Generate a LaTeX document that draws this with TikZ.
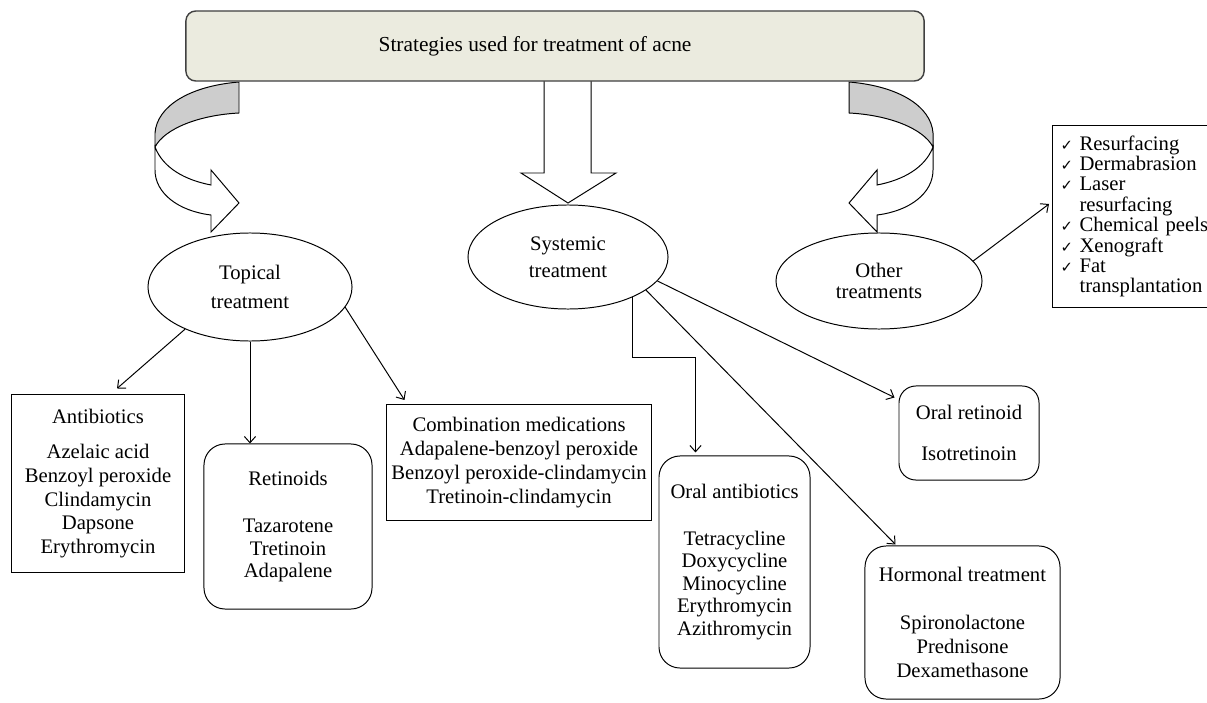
\documentclass[tikz,border=0pt]{standalone}
\usepackage{fontspec}
\setmainfont{Liberation Serif}
\newfontfamily\checkfont{DejaVu Sans}
\usepackage{tikz}
\usetikzlibrary{calc,shapes.geometric,arrows.meta}
\definecolor{bannerfill}{RGB}{235,235,223}
\definecolor{bandgray}{RGB}{205,205,205}
\newcommand{\ck}{\makebox[0.55cm][l]{\hspace*{0.08cm}\checkfont\fontsize{10.5}{10.5}\selectfont ✓}}
\newcommand{\bendarrow}{%
  \draw[fill=bandgray] (239,82) .. controls (190,86) and (157,106) .. (155,133) -- (155,147)
    .. controls (165,128) and (200,115) .. (239,113) -- cycle;
  \draw[fill=white] (155,147) .. controls (163,168) and (185,180) .. (211,185) -- (211,170)
    -- (239,203) -- (211,232) -- (211,215) .. controls (178,211) and (155,193) .. (155,170) -- cycle;}

\begin{document}
\begin{tikzpicture}[x=0.025cm, y=-0.025cm, line width=0.7pt,
    >={Straight Barb[length=4.5pt,width=8pt]},
    every node/.style={font=\fontsize{14.7}{17}\selectfont, align=center, inner sep=0pt},
    banner/.style={draw=black!75, line width=1pt, fill=bannerfill, rounded corners=7pt,
      minimum width=18.45cm, minimum height=1.75cm},
    oval/.style={draw, ellipse},
    plainbox/.style={draw, rectangle},
    softbox/.style={draw, rectangle, rounded corners=15pt}]
    \path[use as bounding box] (0,0) rectangle (1207,702);
    \clip (0,0) rectangle (1207,702);

    \bendarrow
    \begin{scope}[shift={(1088,0)}, xscale=-1]
      \bendarrow
    \end{scope}
    \draw[fill=white] (544,81) -- (544,173) -- (521,173) -- (568,203) -- (616,173) -- (591,173) -- (591,81);

    \node[banner] (banner) at (555,46) {};
    \node[font=\fontsize{15.2}{17}\selectfont] (title) at (535,46) {Strategies used for treatment of acne};

    \node[oval, minimum width=5.1cm, minimum height=2.7cm] (topical) at (250,287) {Topical\\[3.6pt] treatment};
    \node[oval, minimum width=5cm, minimum height=2.6cm] (systemic) at (568,257) {Systemic\\[2pt] treatment};
    \node[oval, minimum width=5.15cm, minimum height=2.4cm] (other) at (879,281) {Other\\[-2pt] treatments};

    \node[plainbox, minimum width=4.3cm, minimum height=4.425cm] (antib) at (98,483.5)
      {Antibiotics\\[8pt] Azelaic acid\\ Benzoyl peroxide\\ Clindamycin\\ Dapsone\\ Erythromycin};
    \node[softbox, minimum width=4.2cm, minimum height=4.125cm] (retin) at (288,526.5)
      {Retinoids\\[17pt] Tazarotene\\[-1pt] Tretinoin\\[-1pt] Adapalene};
    \node[plainbox, minimum width=6.6cm, minimum height=2.9cm] (combo) at (519,462.5)
      {Combination medications\\ Adapalene-benzoyl peroxide\\ Benzoyl peroxide-clindamycin\\ Tretinoin-clindamycin};
    \node[softbox, minimum width=3.775cm, minimum height=5.3cm] (oralab) at (734.5,562)
      {Oral antibiotics\\[16pt] Tetracycline\\[-1pt] Doxycycline\\[-1pt] Minocycline\\[-1pt] Erythromycin\\[-1pt] Azithromycin};
    \node[softbox, rounded corners=12pt, minimum width=3.5cm, minimum height=2.35cm] (oralret) at (969,433)
      {Oral retinoid\\[12pt] Isotretinoin};
    \node[softbox, minimum width=4.875cm, minimum height=3.825cm] (hormon) at (962.5,622.5)
      {Hormonal treatment\\[17pt] Spironolactone\\ Prednisone\\ Dexamethasone};
    \node[plainbox, anchor=west, text width=4.25cm, align=left, inner xsep=0.125cm, minimum height=4.525cm,
      font=\fontsize{14.7}{14.5}\selectfont] (list) at (1052,216.5)
      {\ck Resurfacing\\ \ck Dermabrasion\\ \ck Laser\\ \hspace*{0.55cm}resurfacing\\
       \ck Chemical peels\\ \ck Xenograft\\ \ck Fat\\ \hspace*{0.55cm}transplantation};

    \draw[->] (topical.213.5) -- ($(antib.north)+(19,-6)$);
    \draw[->] (topical) -- (topical |- retin.north);
    \draw[->] (topical.-12.7) -- ($(combo.north west)+(18,-4)$);
    \draw[->] (systemic.-32.7) -- ++(0,60) -| ($(oralab.north)+(-39,-3)$);
    \draw[->] (systemic.-23.2) -- ($(hormon.north)+(-67,-1)$);
    \draw[->] (systemic.-15.1) -- ($(oralret.north west)+(-4,12)$);
    \draw[->] (other.12.6) -- ($(list.west)+(-3,-12.5)$);
\end{tikzpicture}
\end{document}
